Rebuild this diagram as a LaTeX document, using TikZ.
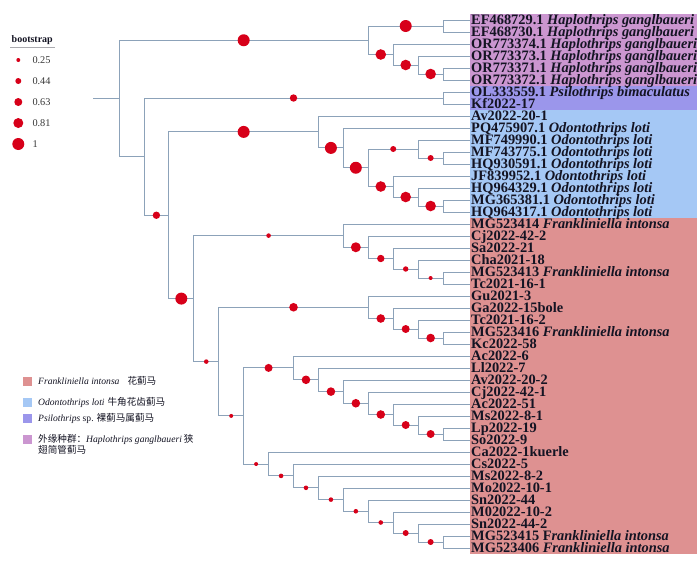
\documentclass[tikz,border=0pt]{standalone}
\usepackage{fontspec}
\setmainfont{Liberation Serif}
\newfontfamily\cjk{Noto Sans CJK SC}
\definecolor{linec}{RGB}{140,162,185}
\definecolor{bsred}{RGB}{215,0,25}
\definecolor{hapC}{RGB}{203,150,208}
\definecolor{psiC}{RGB}{155,150,235}
\definecolor{odoC}{RGB}{165,200,245}
\definecolor{fraC}{RGB}{222,145,145}
\definecolor{txt}{RGB}{20,20,35}
\definecolor{valC}{RGB}{55,55,55}
\definecolor{ulC}{RGB}{170,170,175}
\begin{document}
\begin{tikzpicture}[x=1pt,y=-1pt,
  edge/.style={draw=linec,line width=0.85pt},
  bs/.style={circle,fill=bsred,draw=none,inner sep=0pt,minimum size=#1},
  lab/.style={anchor=base west,inner sep=0pt,text=txt,font=\bfseries\fontsize{14.4}{14.4}\selectfont},
  leg/.style={anchor=west,inner sep=0pt,text=txt,font=\fontsize{9.6}{11}\selectfont},
  val/.style={anchor=west,inner sep=0pt,text=valC,font=\fontsize{10.3}{12}\selectfont},
  sq/.style={draw=none,inner sep=0pt,minimum size=9pt}]
\useasboundingbox (0,0) rectangle (700,560);
\fill[white] (0,0) rectangle (700,560);
% clade bands
\fill[hapC] (470,14) rectangle (697,86);
\fill[psiC] (470,86) rectangle (697,110);
\fill[odoC] (470,110) rectangle (697,218);
\fill[fraC] (470,218) rectangle (697,554);
% tips
\foreach \i in {1,...,45} \coordinate (t\i) at (470,{20+12*(\i-1)});
% internal nodes
\foreach \n/\k/\y in {r0/0/98.4,hE/10/40.25,hA/13/26,hD/11/54.5,hC/12/65,hB/13/74,
  pB/1/156.6,pA/13/98,oI/2/215.25,oH/8/131.9,oG/9/147.9,oF/10/167.75,oB/12/149,oA/13/158,
  oE/11/186.5,oD/12/197,oC/13/206,fF/3/298.6,fE/9/235.6,fD/10/247.25,fC/11/258.5,fB/12/269,
  fA/13/278,gE/4/361.6,gD/10/307.25,gC/11/318.5,gB/12/329,gA/13/338,kH/5/415.9,kG/7/367.9,
  kF/8/379.8,kE/9/391.6,kD/10/403.25,kC/11/414.5,kB/12/425,kA/13/434,mH/6/464,mG/7/475.9,
  mF/8/487.8,mE/9/499.6,mD/10/511.25,mC/11/522.5,mB/12/533,mA/13/542}
  \coordinate (\n) at ({119+24.93*\k},\y);
\coordinate (rs) at (93,98.4);
\draw[edge] (rs) -- (r0);
% tip edges
\foreach \p/\c in {hA/t1,hA/t2,hD/t3,hC/t4,hB/t5,hB/t6,pA/t7,pA/t8,oH/t9,oG/t10,oB/t11,
  oA/t12,oA/t13,oE/t14,oD/t15,oC/t16,oC/t17,fE/t18,fD/t19,fC/t20,fB/t21,fA/t22,fA/t23,
  gD/t24,gC/t25,gB/t26,gA/t27,gA/t28,kG/t29,kF/t30,kE/t31,kD/t32,kC/t33,kB/t34,kA/t35,kA/t36,
  mH/t37,mG/t38,mF/t39,mE/t40,mD/t41,mC/t42,mB/t43,mA/t44,mA/t45}
  \draw[edge] (\p) |- (\c);
% internal edges
\def\inner{r0/hE/12,hE/hA/12,hE/hD/10.6,hD/hC/10.6,hC/hB/10.6,r0/pB/0,pB/pA/7.4,pB/oI/7.4,
  oI/oH/12,oH/oG/12,oG/oF/12,oF/oB/6,oB/oA/6,oF/oE/10.6,oE/oD/10.6,oD/oC/10.6,
  oI/fF/12,fF/fE/4.6,fE/fD/10,fD/fC/7.4,fC/fB/5.4,fB/fA/4,
  fF/gE/4.6,gE/gD/8.6,gD/gC/8.6,gC/gB/8,gB/gA/8.6,
  gE/kH/4,kH/kG/8,kG/kF/8.6,kF/kE/8.6,kE/kD/8.6,kD/kC/8.6,kC/kB/8,kB/kA/8,
  kH/mH/4,mH/mG/4.6,mG/mF/4.6,mF/mE/4.6,mE/mD/4.6,mD/mC/4.6,mC/mB/6,mB/mA/6}
\foreach \p/\c/\d in \inner \draw[edge] (\p) |- (\c);
\foreach \p/\c/\d in \inner {
  \ifdim\d pt>0pt
    \path (\p) |- node[pos=0.75,bs=\d pt] (c\c) {} (\c);
  \fi}
% tip labels
\foreach \i/\t in {1/{EF468729.1 \textit{Haplothrips ganglbaueri}},
  2/{EF468730.1 \textit{Haplothrips ganglbaueri}},
  3/{OR773374.1 \textit{Haplothrips ganglbaueri}},
  4/{OR773373.1 \textit{Haplothrips ganglbaueri}},
  5/{OR773371.1 \textit{Haplothrips ganglbaueri}},
  6/{OR773372.1 \textit{Haplothrips ganglbaueri}},
  7/{OL333559.1 \textit{Psilothrips bimaculatus}},
  8/{Kf2022-17},9/{Av2022-20-1},
  10/{PQ475907.1 \textit{Odontothrips loti}},
  11/{MF749990.1 \textit{Odontothrips loti}},
  12/{MF743775.1 \textit{Odontothrips loti}},
  13/{HQ930591.1 \textit{Odontothrips loti}},
  14/{JF839952.1 \textit{Odontothrips loti}},
  15/{HQ964329.1 \textit{Odontothrips loti}},
  16/{MG365381.1 \textit{Odontothrips loti}},
  17/{HQ964317.1 \textit{Odontothrips loti}},
  18/{MG523414 \textit{Frankliniella intonsa}},
  19/{Cj2022-42-2},20/{Sa2022-21},21/{Cha2021-18},
  22/{MG523413 \textit{Frankliniella intonsa}},
  23/{Tc2021-16-1},24/{Gu2021-3},25/{Ga2022-15bole},26/{Tc2021-16-2},
  27/{MG523416 \textit{Frankliniella intonsa}},
  28/{Kc2022-58},29/{Ac2022-6},30/{Ll2022-7},31/{Av2022-20-2},32/{Cj2022-42-1},
  33/{Ac2022-51},34/{Ms2022-8-1},35/{Lp2022-19},36/{So2022-9},37/{Ca2022-1kuerle},
  38/{Cs2022-5},39/{Ms2022-8-2},40/{Mo2022-10-1},41/{Sn2022-44},42/{M02022-10-2},
  43/{Sn2022-44-2},
  44/{MG523415 F\textit{rankliniella intonsa}},
  45/{MG523406 \textit{Frankliniella intonsa}}}
  \node[lab] (l\i) at (471,{20+12*(\i-1)+4.4}) {\t};
% bootstrap legend
\node[anchor=base west,inner sep=0pt,text=txt,font=\bfseries\fontsize{10}{12}\selectfont] (bt) at (11.5,42.5) {bootstrap};
\coordinate (u1) at (10,47);
\coordinate (u2) at (55,47);
\draw[ulC,line width=0.7pt] (u1) -- (u2);
\foreach \v/\y/\d in {0.25/60/4,0.44/81/6,0.63/102/8,0.81/123/10,1/144/12} {
  \node[bs=\d pt] (d\y) at (18.3,\y) {};
  \node[val] (v\y) at (32.3,\y) {\v};
}
% clade legend
\node[sq,fill=fraC] (s1) at (27,381) {};
\node[sq,fill=odoC] (s2) at (27,402) {};
\node[sq,fill=psiC] (s3) at (27,418) {};
\node[sq,fill=hapC] (s4) at (27,439) {};
\node[leg] (g1) at (38,381) {\textit{Frankliniella intonsa}\hspace{8pt}{\cjk 花蓟马}};
\node[leg] (g2) at (38,402) {\textit{Odontothrips loti}\hspace{3pt}{\cjk 牛角花齿蓟马}};
\node[leg] (g3) at (38,418) {\textit{Psilothrips} sp.\hspace{3pt}{\cjk 裸蓟马属蓟马}};
\node[leg] (g4) at (38,439) {{\cjk 外缘种群：}\textit{Haplothrips ganglbaueri}\hspace{2pt}{\cjk 狭}};
\node[leg] (g5) at (38,450) {{\cjk 翅简管蓟马}};
\end{tikzpicture}
\end{document}
